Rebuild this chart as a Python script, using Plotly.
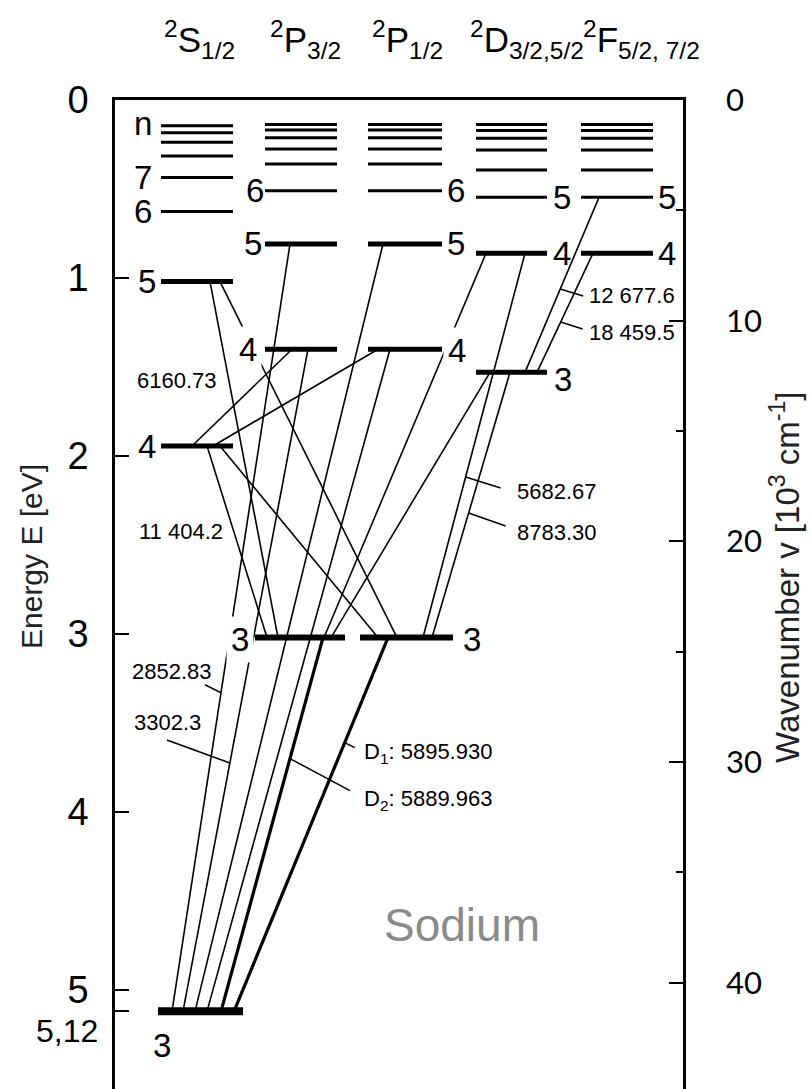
import plotly.graph_objects as go

# ------------------------------------------------------------------
# DATA  (binding energies in eV)
# ------------------------------------------------------------------
EV_TO_KCM = 8.0655          # 1 eV = 8.0655 x 10^3 cm^-1

S_n   = [3, 4, 5, 6, 7, 8, 9, 10, 11]
S_E   = [5.12, 1.944, 1.02, 0.627, 0.436, 0.315, 0.238, 0.184, 0.144]
P32_n = [3, 4, 5, 6, 7, 8, 9, 10, 11]
P32_E = [3.02, 1.40, 0.809, 0.51, 0.36, 0.275, 0.212, 0.169, 0.137]
P12_n = [3, 4, 5, 6, 7, 8, 9, 10, 11]
P12_E = [3.02, 1.40, 0.809, 0.51, 0.36, 0.275, 0.212, 0.169, 0.137]
D_n   = [3, 4, 5, 6, 7, 8, 9, 10]
D_E   = [1.53, 0.861, 0.547, 0.393, 0.281, 0.215, 0.172, 0.137]
F_n   = [4, 5, 6, 7, 8, 9, 10]
F_E   = [0.861, 0.547, 0.393, 0.281, 0.215, 0.172, 0.137]

columns = ["S", "P32", "P12", "D", "F"]
headers = ["<sup>2</sup>S<sub>1/2</sub>", "<sup>2</sup>P<sub>3/2</sub>",
           "<sup>2</sup>P<sub>1/2</sub>", "<sup>2</sup>D<sub>3/2,5/2</sub>",
           "<sup>2</sup>F<sub>5/2, 7/2</sub>"]

# transitions: lower level (column, n) -> upper level (column, n)
tr_lo_col = ["S", "S", "S", "S", "S", "S", "P32", "P12", "P32", "P12", "S", "S", "P32", "P12", "P32", "P12", "D", "D"]
tr_lo_n   = [3, 3, 3, 3, 3, 3, 3, 3, 3, 3, 4, 4, 3, 3, 3, 3, 3, 3]
tr_up_col = ["P32", "P32", "P12", "P12", "P32", "P12", "S", "S", "S", "S", "P32", "P12", "D", "D", "D", "D", "F", "F"]
tr_up_n   = [5, 4, 5, 4, 3, 3, 4, 4, 5, 5, 4, 4, 3, 3, 4, 4, 5, 4]

# wavelength labels (Angstrom)
wl_text = ["6160.73", "11 404.2", "2852.83", "3302.3",
           "D<sub>1</sub>: 5895.930", "D<sub>2</sub>: 5889.963",
           "5682.67", "8783.30", "12 677.6", "18 459.5"]

E_ticks = [0, 1, 2, 3, 4, 5]
E_ground = 5.12
k_ticks = [0, 10, 20, 30, 40]
k_minor = [5, 15, 25, 35]

# ------------------------------------------------------------------
# LAYOUT / STYLE
# ------------------------------------------------------------------
W, H = 810, 1089
TOP_PX, PX_PER_EV = 100, 178
X_LEFT, X_RIGHT = 115, 683
E_MAX = (H - TOP_PX) / PX_PER_EV

NARROW = "Liberation Sans Narrow, Arial Narrow, Liberation Sans, Arial, sans-serif"
REG = "Liberation Sans, Arial, sans-serif"

level_data = {"S": (S_n, S_E), "P32": (P32_n, P32_E), "P12": (P12_n, P12_E),
              "D": (D_n, D_E), "F": (F_n, F_E)}
span = {"S": (161, 233), "P32": (265, 337), "P12": (368, 442), "D": (476, 547), "F": (581, 653)}
span_wide = {("S", 3): (158, 243), ("P32", 3): (255, 345), ("P12", 3): (360, 453)}
level_w = {("S", 3): 8, ("P32", 3): 6, ("P12", 3): 6}
thick5 = {("S", 4), ("S", 5), ("P32", 4), ("P32", 5), ("P12", 4), ("P12", 5),
          ("D", 3), ("D", 4), ("F", 4)}

# attach points of each transition on its lower / upper level (x, px)
tr_x_lo = [172, 183, 195, 207, 221, 234, 267, 378, 278, 397, 192, 213, 331, 432, 324, 423, 525, 537]
tr_x_up = [290, 308, 383, 390, 323, 388, 207, 220, 210, 220, 292, 378, 490, 510, 486, 525, 599, 593]
tr_w = [1.6] * 4 + [3.2, 3.2] + [1.6] * 12

def energy(col, n):
    ns, es = level_data[col]
    return es[ns.index(n)]

fig = go.Figure()

# energy levels
for col in columns:
    ns, es = level_data[col]
    for n, e in zip(ns, es):
        x0, x1 = span_wide.get((col, n), span[col])
        w = level_w.get((col, n), 5 if (col, n) in thick5 else 3)
        fig.add_trace(go.Scatter(x=[x0, x1], y=[e, e], mode="lines",
                                 line=dict(color="black", width=w),
                                 hoverinfo="skip", showlegend=False))

# transitions
for i in range(len(tr_lo_col)):
    e_lo = energy(tr_lo_col[i], tr_lo_n[i])
    e_up = energy(tr_up_col[i], tr_up_n[i])
    fig.add_trace(go.Scatter(x=[tr_x_lo[i], tr_x_up[i]], y=[e_lo, e_up], mode="lines",
                             line=dict(color="black", width=tr_w[i]),
                             hoverinfo="skip", showlegend=False))

# invisible trace to carry the wavenumber axis
allE = S_E + P32_E + P12_E + D_E + F_E
fig.add_trace(go.Scatter(x=[400] * len(allE), y=[e * EV_TO_KCM for e in allE], yaxis="y2",
                         mode="markers", marker=dict(opacity=0), hoverinfo="skip",
                         showlegend=False))

# leader lines: (transition index, energy of contact, dx px, dy px)
leaders = [(0, 3.33, -16, -8), (1, 3.725, -63, -23), (5, 3.61, 10, 5), (4, 3.70, 60, 32),
           (15, 2.118, 35, 11), (13, 2.32, 37, 13), (16, 1.062, 23, 7), (17, 1.247, 22, 7)]
for ti, e, dx, dy in leaders:
    e_lo = energy(tr_lo_col[ti], tr_lo_n[ti])
    e_up = energy(tr_up_col[ti], tr_up_n[ti])
    f = (e - e_lo) / (e_up - e_lo)
    x = tr_x_lo[ti] + f * (tr_x_up[ti] - tr_x_lo[ti])
    fig.add_shape(type="line", xref="x", yref="y", x0=x, y0=e, x1=x + dx, y1=e + dy / PX_PER_EV,
                  line=dict(color="black", width=1.5))

ann = []
# headers
header_x = [199, 305, 408, 527, 641]
for hx, ht in zip(header_x, headers):
    ann.append(dict(x=hx / W, y=1 - 39 / H, xref="paper", yref="paper", text=ht,
                    showarrow=False, xanchor="center", yanchor="middle",
                    font=dict(family=NARROW, size=35, color="black")))

# level number labels: (column, n, text, x px, yshift, white background)
lvl_labels = [("S", 11, "n", 143, 2, False), ("S", 7, "7", 143, 0, False),
              ("S", 6, "6", 143, 0, False), ("S", 5, "5", 147, 0, False),
              ("S", 4, "4", 147, 0, False), ("S", 3, "3", 162, -34, False),
              ("P32", 6, "6", 255, 0, False), ("P32", 5, "5", 253, 0, False),
              ("P32", 4, "4", 248, 0, True), ("P32", 3, "3", 240, -2, True),
              ("P12", 6, "6", 456, 0, False), ("P12", 5, "5", 456, 0, False),
              ("P12", 4, "4", 457, -1, True), ("P12", 3, "3", 472, -2, False),
              ("D", 5, "5", 562, 0, False), ("D", 4, "4", 562, 0, False),
              ("D", 3, "3", 563, -7, False),
              ("F", 5, "5", 667, 0, False), ("F", 4, "4", 667, 0, False)]
for col, n, t, x, ys, bg in lvl_labels:
    a = dict(x=x, y=energy(col, n), xref="x", yref="y", text=t, showarrow=False,
             xanchor="center", yanchor="middle",
             yshift=ys, font=dict(family=NARROW, size=33, color="black"))
    if bg:
        a.update(bgcolor="white", borderpad=4)
    ann.append(a)

# wavelength labels (x px, y px, anchor)
wl_pos = [(177, 381, "center"), (181, 531, "center"), (172, 671, "center"), (167, 722, "center"),
          (362, 753, "left"), (362, 800, "left"), (515, 492, "left"), (515, 532, "left"),
          (587, 296, "left"), (587, 333, "left")]
for t, (x, y, xa) in zip(wl_text, wl_pos):
    ann.append(dict(x=x, y=(y - TOP_PX) / PX_PER_EV, xref="x", yref="y", text=t,
                    showarrow=False, xanchor=xa, yanchor="middle",
                    font=dict(family=REG, size=22, color="black")))

# 5,12 ground-state tick label
ann.append(dict(x=100 / W, y=E_ground, xref="paper", yref="y", text="5,12", showarrow=False,
                xanchor="right", yanchor="middle", yshift=-20,
                font=dict(family=NARROW, size=32, color="black")))

# axis titles
ann.append(dict(x=31 / W, y=1 - 557 / H, xref="paper", yref="paper", text="Energy E [eV]",
                textangle=-90, showarrow=False, xanchor="center", yanchor="middle",
                font=dict(family=REG, size=30, color="#222")))
ann.append(dict(x=785 / W, y=1 - 578 / H, xref="paper", yref="paper",
                text="Wavenumber v [10<sup>3</sup> cm<sup>-1</sup>]",
                textangle=-90, showarrow=False, xanchor="center", yanchor="middle",
                font=dict(family=REG, size=33, color="#222")))
ann.append(dict(x=462 / W, y=1 - 925 / H, xref="paper", yref="paper", text="Sodium",
                showarrow=False, xanchor="center", yanchor="middle",
                font=dict(family=REG, size=46, color="#8a8a8a")))

fig.update_layout(
    width=W, height=H, margin=dict(l=0, r=0, t=0, b=0),
    paper_bgcolor="white", plot_bgcolor="white",
    xaxis=dict(range=[X_LEFT, X_RIGHT], domain=[X_LEFT / W, X_RIGHT / W], side="top",
               showline=True, linecolor="black", linewidth=2.5, showticklabels=False,
               ticks="", showgrid=False, zeroline=False, automargin=False, fixedrange=True),
    yaxis=dict(range=[E_MAX, 0], domain=[0, (H - TOP_PX) / H], anchor="x", side="left",
               showline=True, linecolor="black", linewidth=2.5, ticks="inside", ticklen=14,
               tickwidth=2, tickcolor="black",
               tickvals=E_ticks + [E_ground], ticktext=[str(v) for v in E_ticks] + [""],
               tickfont=dict(family=NARROW, size=38, color="black"), ticklabelstandoff=16,
               showgrid=False, zeroline=False, automargin=False, fixedrange=True),
    yaxis2=dict(range=[E_MAX * EV_TO_KCM, 0], overlaying="y", anchor="x", side="right",
                showline=True, linecolor="black", linewidth=2.5, ticks="inside", ticklen=14,
                tickwidth=2, tickcolor="black", tickvals=k_ticks,
                ticktext=[str(v) for v in k_ticks],
                minor=dict(tickvals=k_minor, ticks="inside", ticklen=7, tickwidth=2,
                           tickcolor="black"),
                tickfont=dict(family="Lato, Liberation Sans, sans-serif", size=31, color="black"),
                ticklabelstandoff=34, showgrid=False, zeroline=False, automargin=False,
                fixedrange=True),
    annotations=ann, showlegend=False,
)

fig.write_html("out.html")
